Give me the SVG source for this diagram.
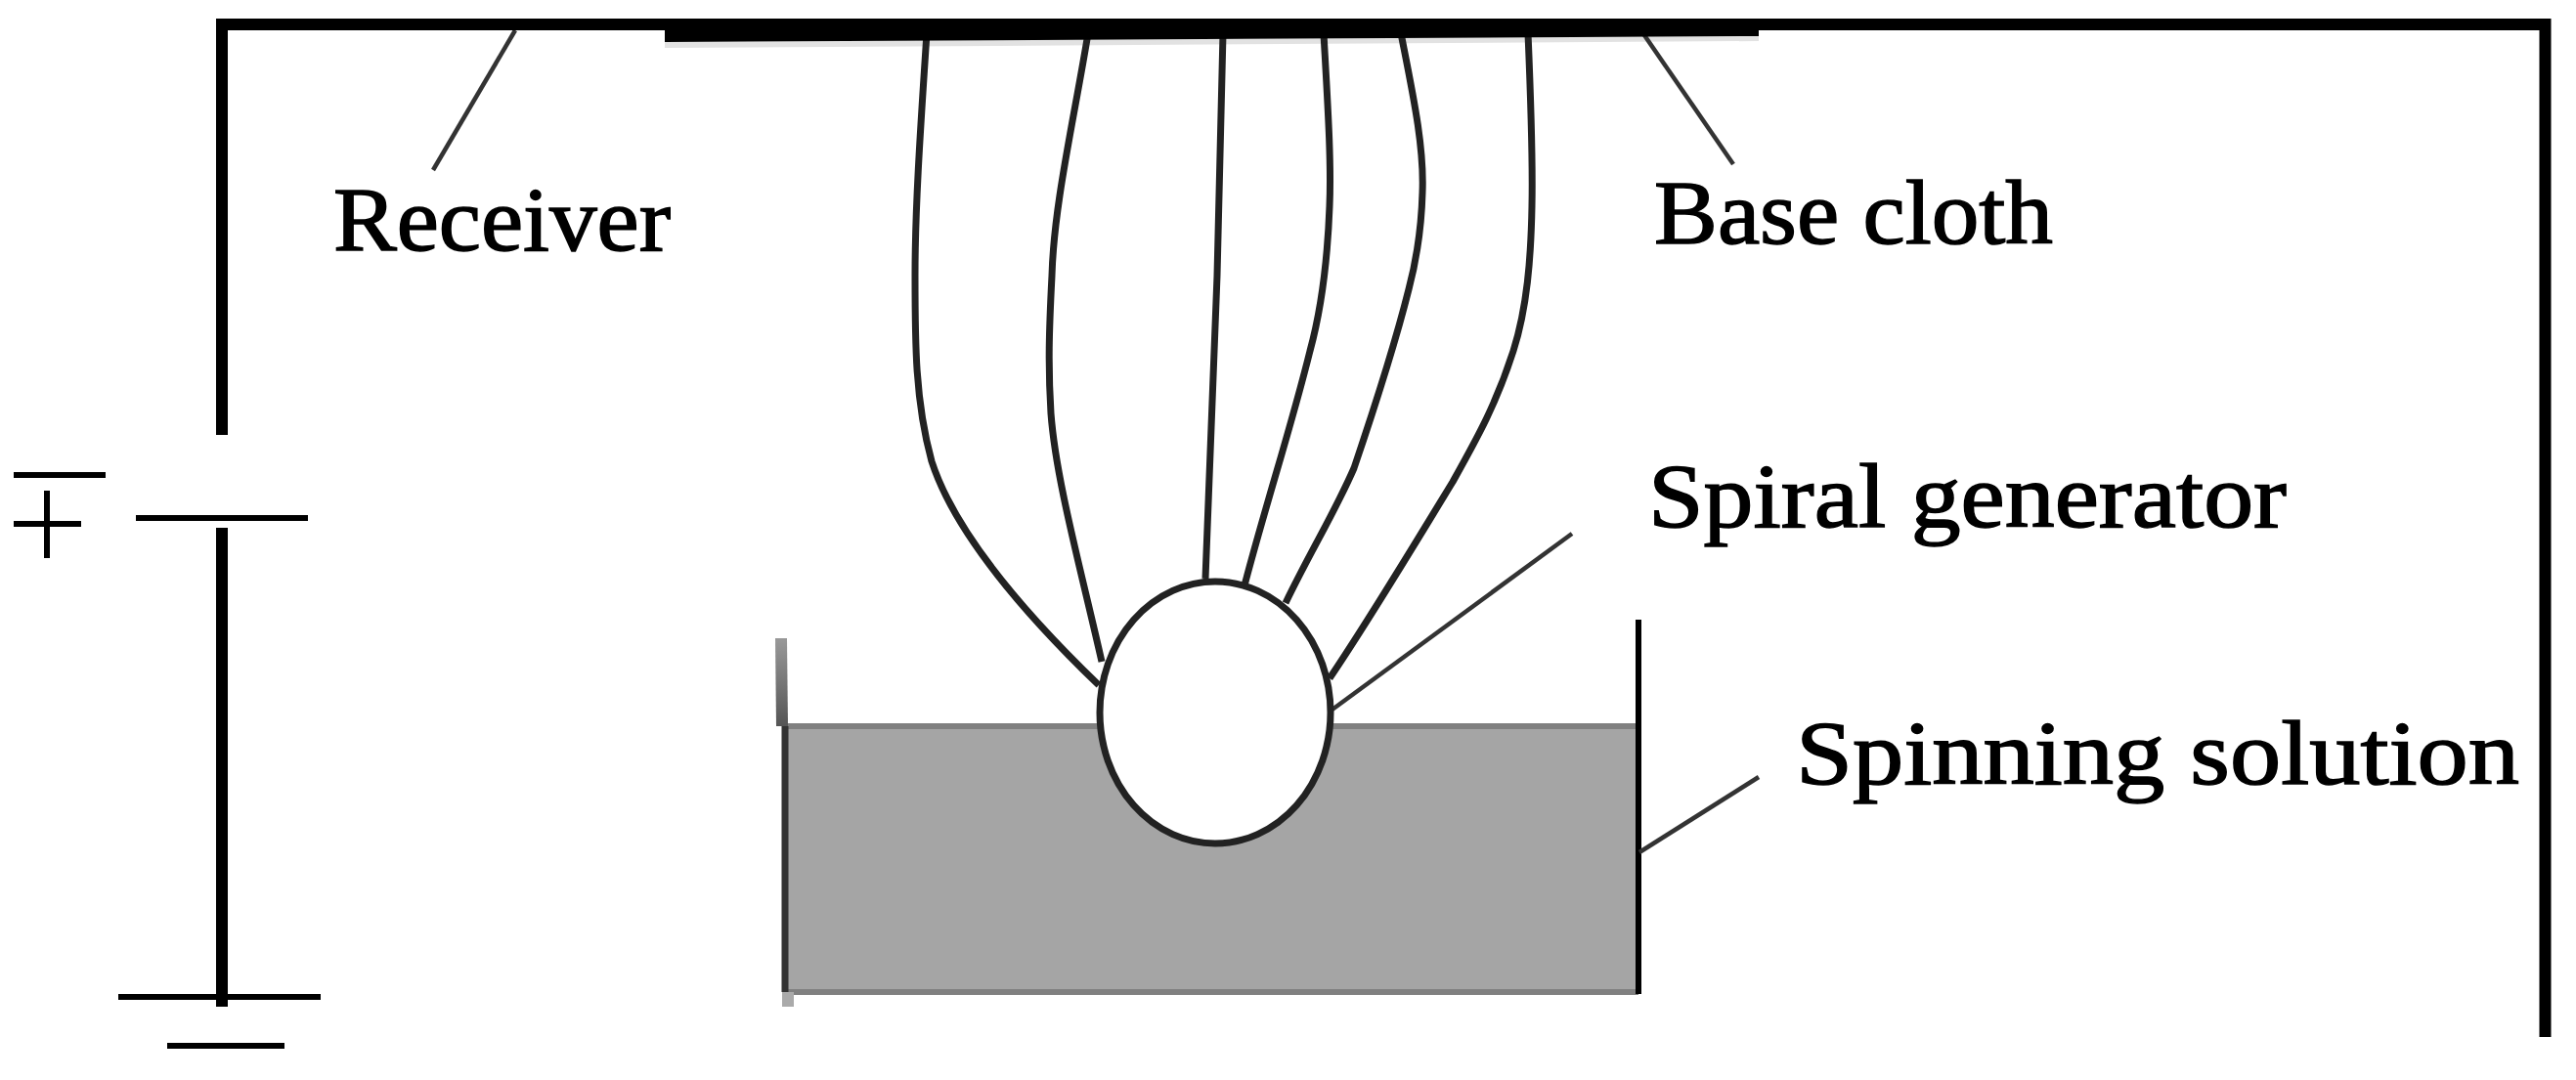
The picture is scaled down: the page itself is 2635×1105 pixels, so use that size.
<svg xmlns="http://www.w3.org/2000/svg" width="2635" height="1105" viewBox="0 0 2635 1105">
<defs>
<linearGradient id="wallTop" x1="0" y1="653" x2="0" y2="743" gradientUnits="userSpaceOnUse">
<stop offset="0" stop-color="#999"/>
<stop offset="1" stop-color="#555"/>
</linearGradient>
</defs>
<style>
.label{font-family:"Liberation Serif","DejaVu Serif",serif;font-size:94px;fill:#000;stroke:#000;stroke-width:1.5}
.wire{fill:none;stroke:#000;stroke-width:12}
.thin{fill:none;stroke:#000;stroke-width:6}
.leader{fill:none;stroke:#333;stroke-width:4.500}
.fiber{fill:none;stroke:#222;stroke-width:7}
</style>
<rect width="2635" height="1105" fill="#fff"/>
<g id="tank">
<rect x="803" y="743" width="873" height="272" fill="#a5a5a5"/>
<path d="M803 743H1676M803 1015H1676" fill="none" stroke="#808080" stroke-width="6"/>
<path d="M799 653L800 743" fill="none" stroke="url(#wallTop)" stroke-width="12"/>
<path d="M803 743V1015" fill="none" stroke="#333" stroke-width="7"/>
<path d="M806 1015V1030" fill="none" stroke="#aaa" stroke-width="12"/>
<path d="M1676 634V1017" fill="none" stroke="#000" stroke-width="6"/>
</g>
<g id="base-cloth-shadow">
<polygon points="680,43 1799,37 1799,42 680,49" fill="#e2e2e2"/>
</g>
<g id="connectors">
<path class="fiber" d="M948 34C942 125 936 210 936 282C936 350 936 410 953 472C975 540 1040 620 1124 701"/>
<path class="fiber" d="M1113 34C1098 125 1078 210 1076 282C1073 340 1072 375 1075 423C1080 490 1105 580 1127 677"/>
<path class="fiber" d="M1251 34L1245 282L1233 592"/>
<path class="fiber" d="M1354 34C1358 105 1362 165 1360 211C1358 265 1352 315 1340 359C1320 440 1295 515 1273 599"/>
<path class="fiber" d="M1433 34C1445 95 1457 150 1455 197C1454 232 1450 262 1441 296C1425 360 1405 420 1385 479C1365 525 1340 565 1315 617"/>
<path class="fiber" d="M1563 34C1566 105 1568 165 1567 211C1566 265 1562 315 1548 359C1530 415 1510 450 1486 493C1445 560 1400 635 1360 694"/>
<path class="leader" d="M527 31L443 174"/>
<path class="leader" d="M1682 36L1773 168"/>
<path class="leader" d="M1608 546L1360 728"/>
<path class="leader" d="M1677 872L1799 795"/>
</g>
<g id="generator">
<ellipse cx="1243" cy="729" rx="118" ry="134" fill="#fff" stroke="#222" stroke-width="7"/>
</g>
<g id="receiver">
<path class="wire" d="M227 445V25H2603.500V1061"/>
</g>
<g id="base-cloth">
<polygon points="680,19 1799,19 1799,37 680,43" fill="#000"/>
</g>
<g id="power">
<path class="wire" d="M227 540V1030"/>
<path class="thin" d="M139 530H315M121 1020H328M171 1070H291M14 486H108M14 536H83M48 502V571"/>
</g>
<g id="labels">
<text class="label" x="341" y="256" textLength="345" lengthAdjust="spacingAndGlyphs">Receiver</text>
<text class="label" x="1692" y="249" textLength="408" lengthAdjust="spacingAndGlyphs">Base cloth</text>
<text class="label" x="1686" y="539" textLength="653" lengthAdjust="spacingAndGlyphs">Spiral generator</text>
<text class="label" x="1837" y="802" textLength="740" lengthAdjust="spacingAndGlyphs">Spinning solution</text>
</g>
</svg>
